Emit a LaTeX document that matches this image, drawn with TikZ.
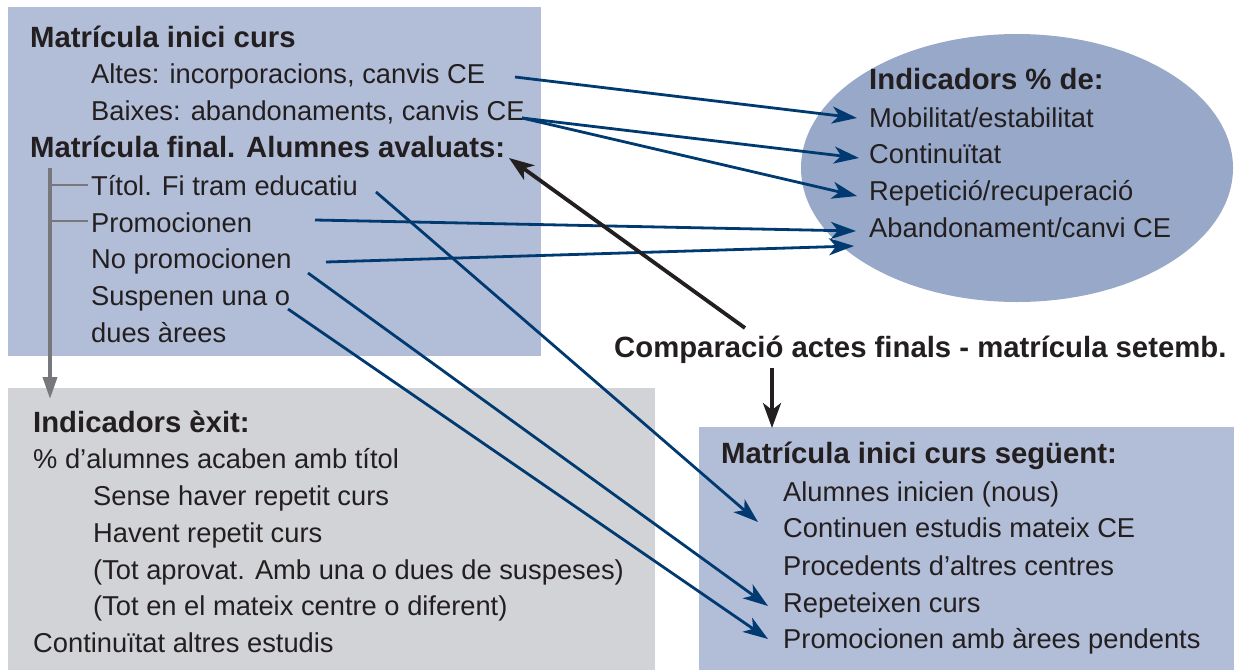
\documentclass[tikz,border=0pt]{standalone}
\usepackage{fontspec}
\setmainfont{Liberation Sans}
\usetikzlibrary{arrows.meta}
\definecolor{boxblue}{HTML}{B2BDD7}
\definecolor{ellblue}{HTML}{97A8C8}
\definecolor{boxgray}{HTML}{D1D3D6}
\definecolor{ink}{HTML}{231F20}
\definecolor{navy}{HTML}{003A70}
\definecolor{treegray}{HTML}{77787B}
\tikzset{
  txt/.style={anchor=base west, inner sep=0pt, text=ink, font=\fontsize{27.3}{30}\selectfont},
  btxt/.style={txt, font=\fontsize{29.3}{30}\selectfont\bfseries},
  bluearrow/.style={draw=navy, line width=2.8pt, -{Stealth[length=25pt,width=17pt,inset=7pt]}},
  blackarrow/.style={draw=ink, line width=3.8pt, -{Stealth[length=25pt,width=18pt,inset=7pt]}},
  treeline/.style={draw=treegray, line width=3.8pt},
}
\begin{document}
\begin{tikzpicture}[x=1pt,y=-1pt]
\useasboundingbox (0,0) rectangle (1234,670);
% boxes
\fill[boxblue] (8,7) rectangle (541,356);
\fill[boxgray] (8,388) rectangle (655,670);
\fill[boxblue] (699,427) rectangle (1234,670);
\fill[ellblue] (1017,168) ellipse [x radius=216, y radius=134];

% top-left texts
\node[btxt] (mic) at (30,47) {Matrícula inici curs};
\node[txt] (altes) at (91,83) {Altes: incorporacions, canvis CE};
\node[txt] (baixes) at (91,120) {Baixes: abandonaments, canvis CE};
\node[btxt] (mfin) at (30,157) {Matrícula final. Alumnes avaluats:};
\node[txt] (titol) at (91,195) {Títol. Fi tram educatiu};
\node[txt] (prom) at (91,232) {Promocionen};
\node[txt] (noprom) at (91,268) {No promocionen};
\node[txt] (susp) at (91,305) {Suspenen una o};
\node[txt] (dues) at (91,342) {dues àrees};

% ellipse texts
\node[btxt] (ind) at (869,89) {Indicadors \% de:};
\node[txt] (mob) at (869,127) {Mobilitat/estabilitat};
\node[txt] (cont) at (869,163) {Continuïtat};
\node[txt] (rep) at (869,200) {Repetició/recuperació};
\node[txt] (aband) at (869,237) {Abandonament/canvi CE};

% comparison label
\node[btxt] (comp) at (614,357) {Comparació actes finals - matrícula setemb.};

% bottom-left texts
\node[btxt] (indx) at (33,432) {Indicadors èxit:};
\node[txt] (pct) at (33,468) {\% d’alumnes acaben amb títol};
\node[txt] (sense) at (93,505) {Sense haver repetit curs};
\node[txt] (havent) at (93,542) {Havent repetit curs};
\node[txt] (tota) at (93,579) {(Tot aprovat. Amb una o dues de suspeses)};
\node[txt] (tote) at (93,615) {(Tot en el mateix centre o diferent)};
\node[txt] (contalt) at (33,652) {Continuïtat altres estudis};

% bottom-right texts
\node[btxt] (mics) at (721,463) {Matrícula inici curs següent:};
\node[txt] (alum) at (783,501) {Alumnes inicien (nous)};
\node[txt] (contin) at (783,537) {Continuen estudis mateix CE};
\node[txt] (proc) at (783,575) {Procedents d’altres centres};
\node[txt] (repet) at (783,612) {Repeteixen curs};
\node[txt] (promp) at (783,648) {Promocionen amb àrees pendents};

% connector coordinates
\coordinate (altesE) at (515,77);
\coordinate (baixesE) at (522,118);
\coordinate (promE) at (315,220);
\coordinate (nopromE) at (326,262);
\coordinate (nopromS) at (308,273);
\coordinate (titolE) at (376,192);
\coordinate (suspE) at (288,309);
\coordinate (mobW) at (857,118);
\coordinate (contW) at (859,158);
\coordinate (repW) at (857,196);
\coordinate (abandW) at (856,231);
\coordinate (abandW2) at (854,246);
\coordinate (alumW) at (758,522);
\coordinate (repetW) at (768,606);
\coordinate (prompW) at (768,639);
\coordinate (mfinE) at (509,158);
\coordinate (compN) at (745,328);
\coordinate (compS) at (772,368);
\coordinate (micsN) at (772,428);
\coordinate (treeTop) at (50,168);
\coordinate (treeBot) at (50,399);
\coordinate (br1) at (50,185);
\coordinate (br2) at (50,221);
\coordinate (br1e) at (88,185);
\coordinate (br2e) at (88,221);

% gray tree
\draw[treeline, -{Triangle[length=22pt,width=14pt]}] (treeTop) -- (treeBot);
\draw[treegray, line width=2.6pt] (br1) -- (br1e);
\draw[treegray, line width=2.6pt] (br2) -- (br2e);

% blue arrows
\draw[bluearrow] (altesE) -- (mobW);
\draw[bluearrow] (baixesE) -- (contW);
\draw[bluearrow] (baixesE) -- (repW);
\draw[bluearrow] (promE) -- (abandW);
\draw[bluearrow] (nopromE) -- (abandW2);
\draw[bluearrow] (titolE) -- (alumW);
\draw[bluearrow] (nopromS) -- (repetW);
\draw[bluearrow] (suspE) -- (prompW);

% black arrows
\draw[blackarrow] (compN) -- (mfinE);
\draw[blackarrow] (compS) -- (micsN);
\end{tikzpicture}
\end{document}
